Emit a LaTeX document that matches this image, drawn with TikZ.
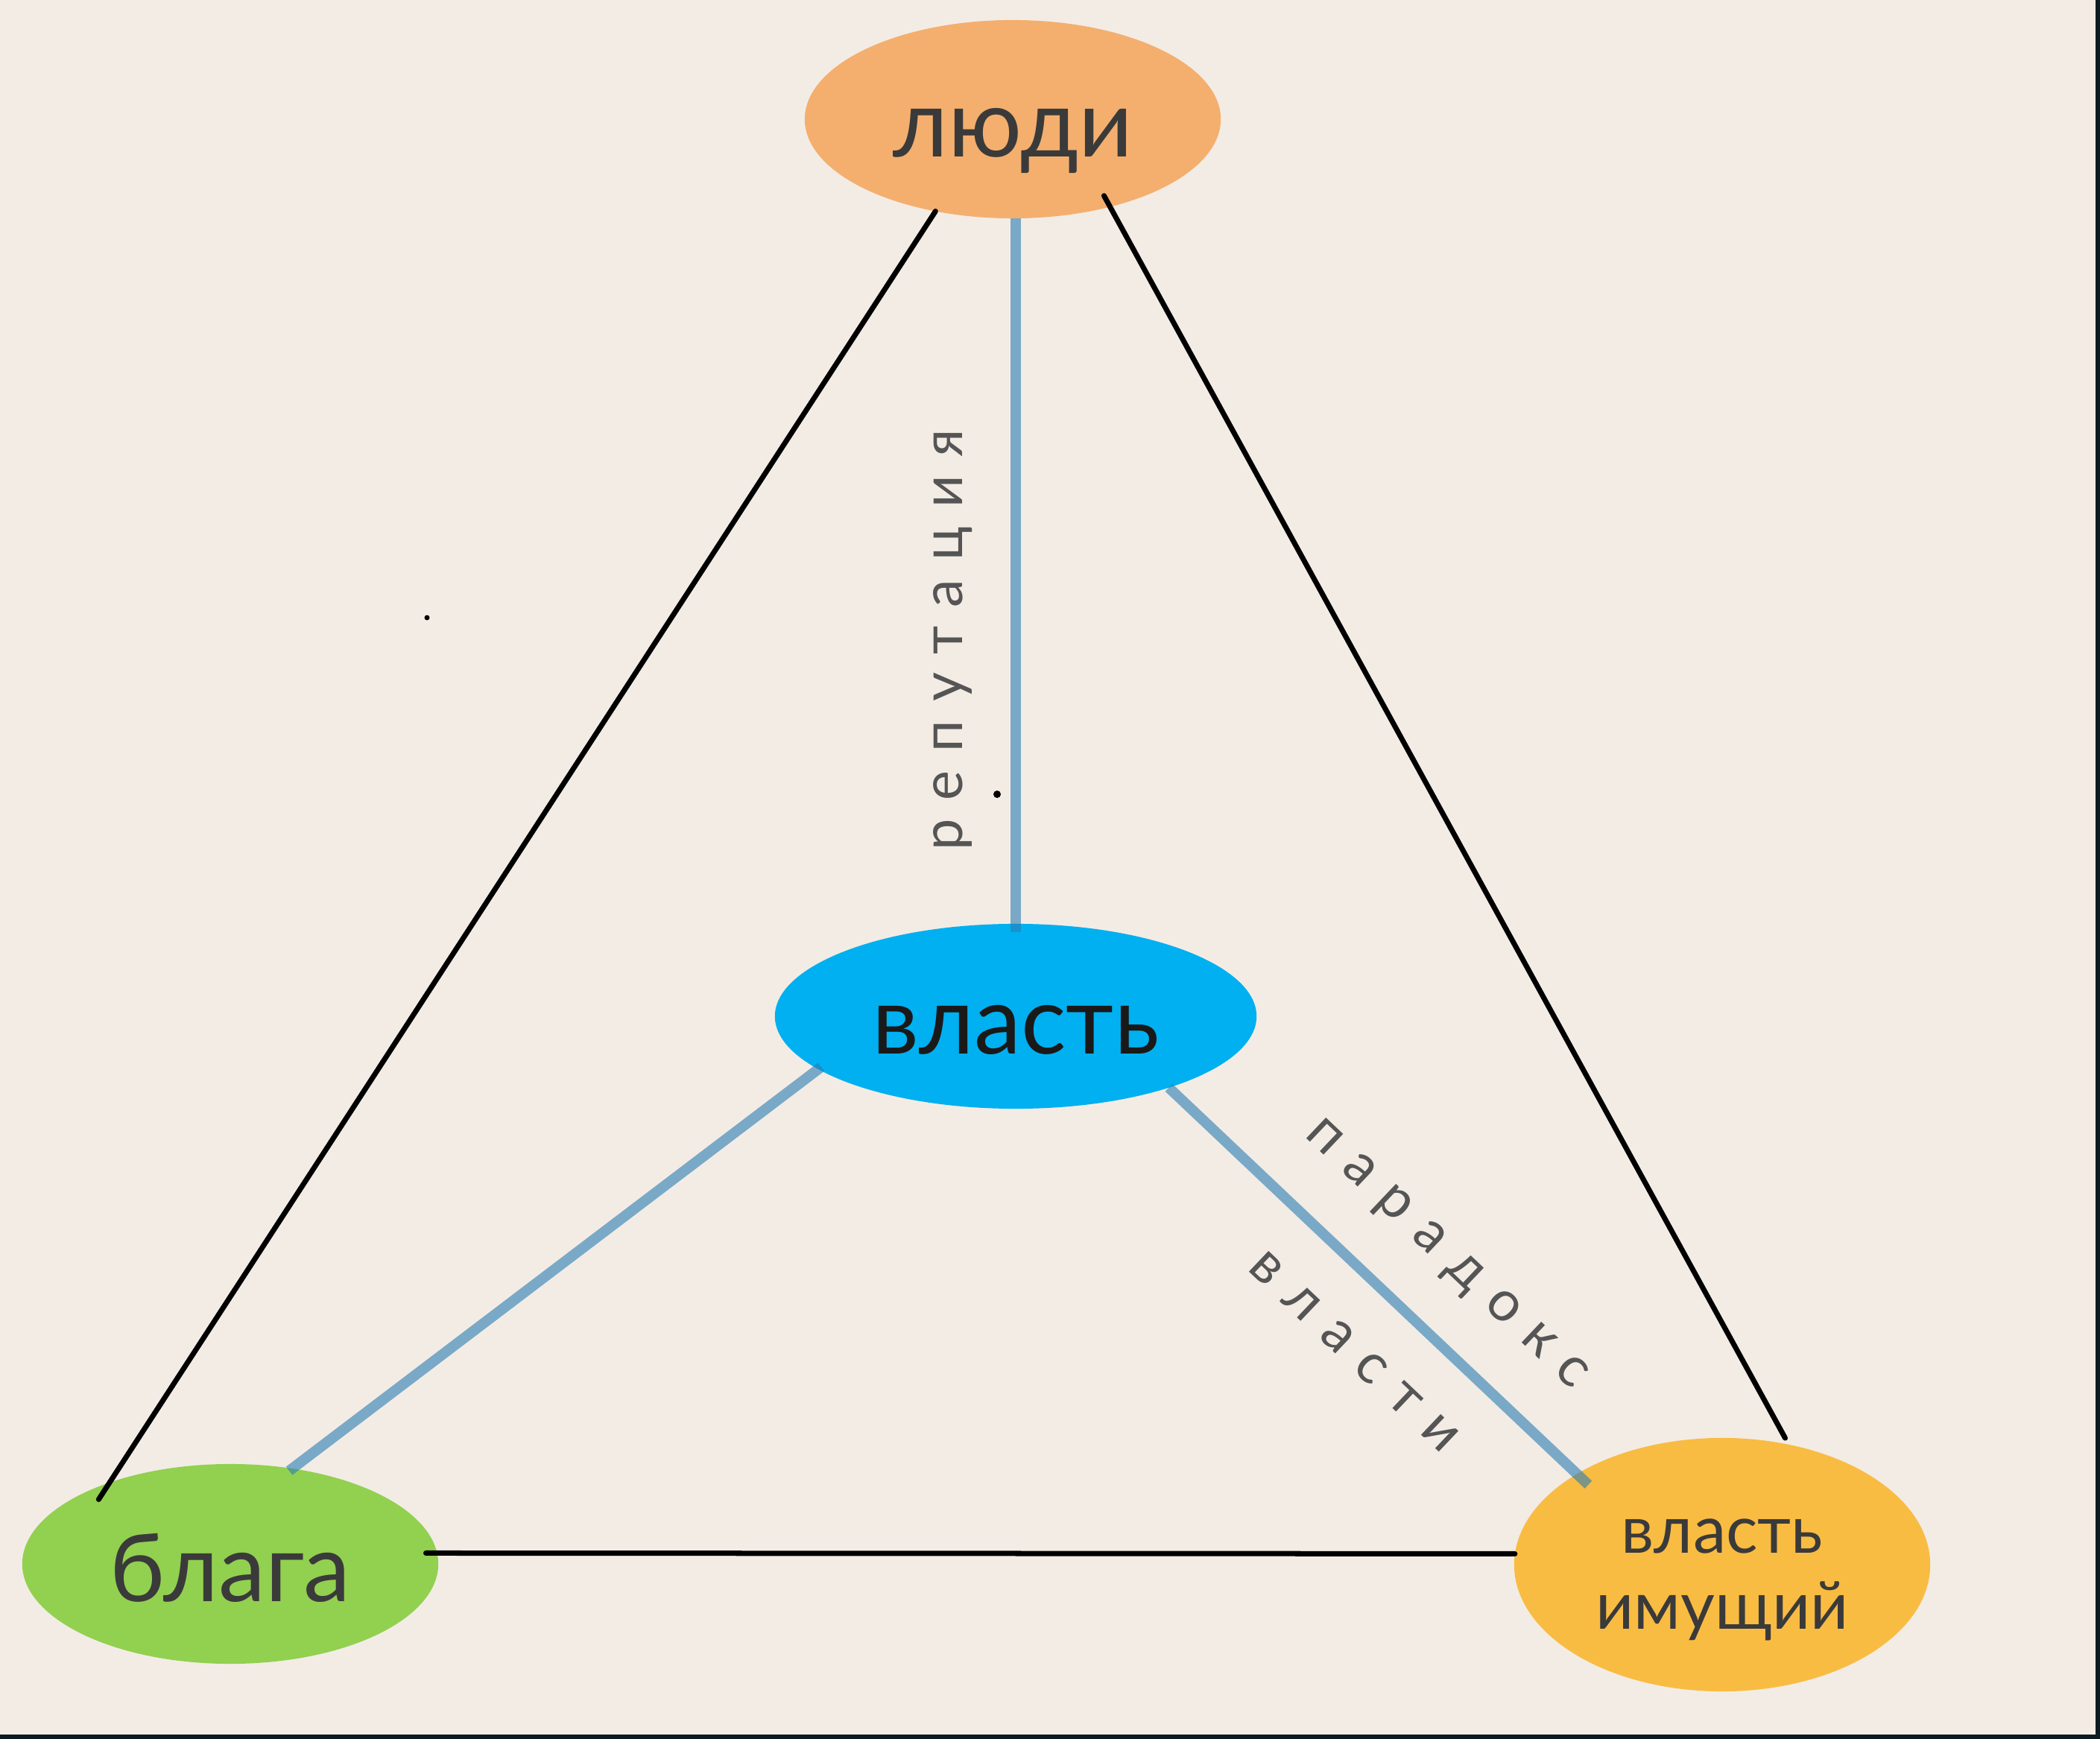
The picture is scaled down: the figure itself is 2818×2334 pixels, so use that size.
\documentclass[tikz,border=0pt]{standalone}
\usepackage{fontspec}
\setmainfont{Lato}
\newfontfamily\spacedfont[LetterSpace=33]{Lato}
\usetikzlibrary{shapes.geometric}

\definecolor{paper}{HTML}{F3ECE5}
\definecolor{frameDark}{HTML}{0C1A22}
\definecolor{lyudiFill}{HTML}{F4AF6E}
\definecolor{vlastFill}{HTML}{00B0F0}
\definecolor{blagaFill}{HTML}{92D050}
\definecolor{imushFill}{HTML}{F9BC42}
\definecolor{nodeText}{HTML}{3A3A3A}
\definecolor{labelGrey}{HTML}{555555}
\definecolor{linkBlue}{RGB}{40,125,180}

\begin{document}
\begin{tikzpicture}[x=0.01cm, y=-0.01cm,
    bubble/.style={ellipse, inner sep=0pt, outer sep=0pt, text=nodeText,
        font=\fontsize{36pt}{40pt}\selectfont, text height=1cm, text depth=0pt},
    blueLine/.style={line width=0.14cm, draw=linkBlue, draw opacity=0.6},
    blackLine/.style={line width=0.07cm, line cap=round},
    edgeText/.style={text=labelGrey, inner sep=0pt,
        font=\spacedfont\fontsize{21.5pt}{52pt}\selectfont}]
    % page and its dark rim
    \fill[frameDark] (0,0) rectangle (2818,2334);
    \fill[paper] (0,0) rectangle (2812,2328);

    \node[bubble, fill=lyudiFill, minimum width=5.58cm, minimum height=2.66cm] (lyudi) at (1359,160) {люди};
    \node[bubble, fill=vlastFill, minimum width=6.46cm, minimum height=2.48cm, text=black!90] (vlast) at (1363,1364) {власть};
    \node[bubble, fill=blagaFill, minimum width=5.58cm, minimum height=2.68cm] (blaga) at (309,2099) {блага};
    \node[bubble, fill=imushFill, minimum width=5.58cm, minimum height=3.40cm] (imush) at (2311,2100) {};
    \node[text=nodeText, align=center, inner sep=0pt, font=\fontsize{25.3pt}{29pt}\selectfont]
        (imushText) at ([yshift=-0.2cm]imush.center) {власть\\имущий};

    % outer triangle
    \draw[blackLine, shorten >=-0.27cm] (lyudi.230) -- (blaga.146);
    \draw[blackLine, shorten <=-0.17cm, shorten >=0.1cm] (lyudi.318) -- (imush.61);
    \draw[blackLine, shorten <=-0.15cm] (blaga.3) -- (imush.177);

    % links to the centre
    \draw[blueLine, shorten <=-0.11cm] (vlast.north) -- (vlast.north |- lyudi.south);
    \draw[blueLine, shorten <=-0.05cm, shorten >=-0.05cm] (vlast.195) -- (blaga.57);
    \draw[blueLine, shorten >=-0.21cm] (vlast.335) -- (imush.148);

    \node[edgeText, rotate=90, anchor=base] (repu) at (1291,859) {репутация};
    \node[edgeText, rotate=-43.5, align=center] (paradox) at (1880,1748) {парадокс\\власти};

    % stray dots
    \fill (573,829) circle (0.035cm);
    \fill (1338,1066) circle (0.05cm);
\end{tikzpicture}
\end{document}
